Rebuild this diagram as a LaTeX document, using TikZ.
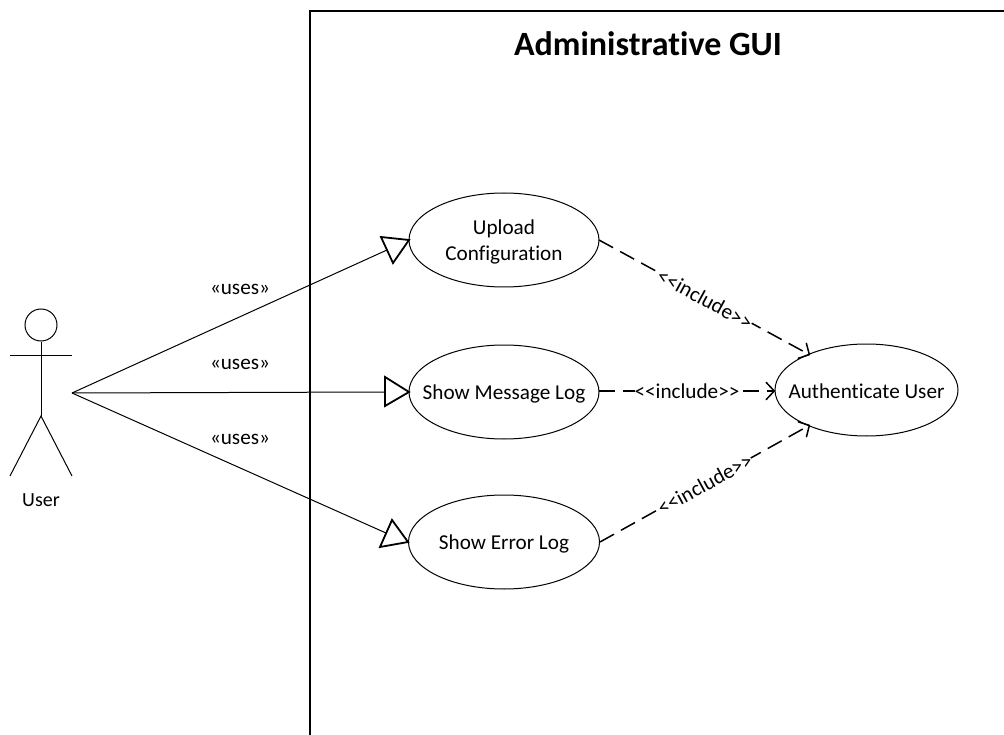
\documentclass[tikz,border=0pt]{standalone}
\usepackage{fontspec}
\setmainfont[Ligatures=NoCommon]{Carlito}
\usetikzlibrary{arrows.meta,shapes.geometric}
\newcommand{\lowertext}[1]{\raisebox{-1.5pt}[\height][\depth]{#1}}
\tikzset{
  x=1pt,y=-1pt,
  line/.style={draw=black,line width=1pt},
  usecase/.style={ellipse,draw=black,line width=1pt,inner sep=0pt,align=center,font=\fontsize{21.2}{26}\selectfont},
  label/.style={font=\fontsize{21.2}{24}\selectfont,inner sep=0pt,fill=none},
  incl/.style={line,dash pattern=on 16pt off 8pt,line width=1.5pt},
  open/.style={-{Straight Barb[length=8pt,width=17pt,line width=1.5pt,round]}},
  tri/.style={draw=black,line width=1.8pt,line join=miter,fill=white},
}
\begin{document}
\begin{tikzpicture}
\useasboundingbox (0,0) rectangle (1004,735);
% frame
\coordinate (fa) at (310,735);
\coordinate (fb) at (310,11);
\coordinate (fc) at (1004,11);
\draw[line,line width=2pt] (fa) -- (fb) -- (fc);
\node[font=\fontsize{34}{40}\bfseries\selectfont,inner sep=0pt] (title) at (648,44) {Administrative GUI};
% actor
\node[circle,draw=black,line width=1pt,minimum size=32pt,inner sep=0pt] (head) at (41,325) {};
\coordinate (hip) at (41,416);
\coordinate (arml) at (10,355);
\coordinate (armr) at (72,355);
\coordinate (legl) at (10,476);
\coordinate (legr) at (72,476);
\draw[line] (head.south) -- (hip);
\draw[line] (arml) -- (armr);
\draw[line] (legl) -- (hip) -- (legr);
\node[label,font=\fontsize{20}{24}\selectfont] (user) at (41,500) {User};
\coordinate (src) at (72,393);
% use cases
\node[usecase,minimum width=190pt,minimum height=94pt] (up) at (504,240) {\lowertext{Upload}\\\lowertext{Configuration}};
\node[usecase,minimum width=190pt,minimum height=94pt] (msg) at (504,392) {\makebox[0pt]{\lowertext{Show Message Log}}};
\node[usecase,minimum width=191pt,minimum height=94pt] (err) at (504,542) {\makebox[0pt]{\lowertext{Show Error Log}}};
\node[usecase,minimum width=183pt,minimum height=92pt] (auth) at (866.5,390) {\makebox[0pt]{\lowertext{Authenticate User}}};
% uses connectors
\coordinate (t1a) at (387,250);
\coordinate (t2a) at (385,392);
\coordinate (t3a) at (386,533);
\draw[line] (src) -- (t1a);
\draw[line] (src) -- (t2a);
\draw[line] (src) -- (t3a);
\coordinate (t1) at (409,240);
\coordinate (t1b) at (381,237);
\coordinate (t1c) at (393,263);
\coordinate (t2) at (409,392);
\coordinate (t2b) at (385,377);
\coordinate (t2c) at (385,406);
\coordinate (t3) at (408,542);
\coordinate (t3b) at (380,547);
\coordinate (t3c) at (392,520);
\draw[tri] (t1) -- (t1b) -- (t1c) -- cycle;
\draw[tri] (t2) -- (t2b) -- (t2c) -- cycle;
\draw[tri] (t3) -- (t3b) -- (t3c) -- cycle;
\node[label] (u1) at (240,289) {«uses»};
\node[label] (u2) at (240,364) {«uses»};
\node[label] (u3) at (240,439) {«uses»};
% include connectors
\coordinate (a1) at (810,355);
\coordinate (a2) at (775,391);
\coordinate (a3) at (810,425);
\coordinate (s1) at (599,240);
\coordinate (s2) at (599,391);
\coordinate (s3) at (600,542);
\draw[incl,open] (s1) -- (a1);
\draw[incl,open] (s2) -- (a2);
\draw[incl,open] (s3) -- (a3);
\node[label,fill=white,rotate=-28.6] (i1) at (705,299) {<{}<{}include>{}>};
\node[label,fill=white] (i2) at (687,391) {<{}<{}include>{}>};
\node[label,fill=white,rotate=28.6] (i3) at (705,484) {<{}<{}include>{}>};
\end{tikzpicture}
\end{document}
